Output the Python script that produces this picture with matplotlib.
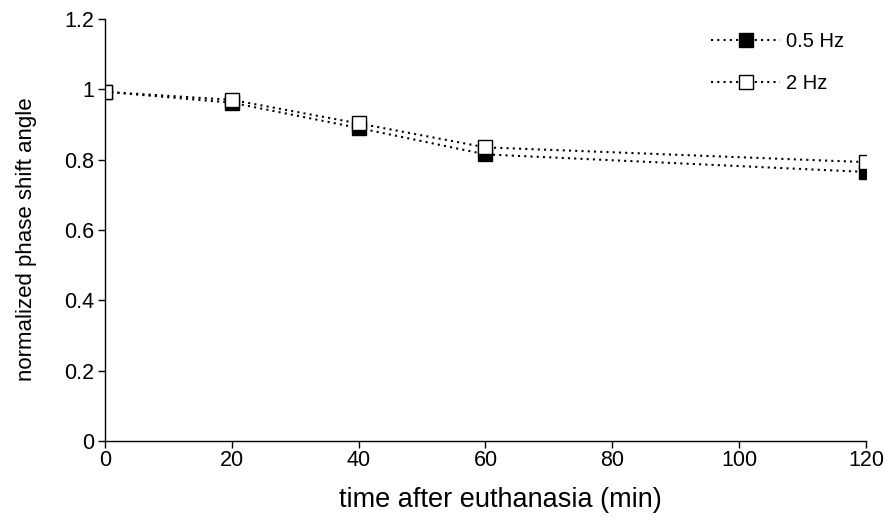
import matplotlib

matplotlib.use("Agg")
import matplotlib.pyplot as plt

plt.rcParams["font.family"] = ["Liberation Sans", "DejaVu Sans"]

minutes = [0, 20, 40, 60, 120]
phase_05hz = [0.993, 0.962, 0.890, 0.815, 0.765]
phase_2hz = [0.993, 0.970, 0.903, 0.835, 0.793]
series_labels = ["0.5 Hz", "2 Hz"]
x_ticks = [0, 20, 40, 60, 80, 100, 120]
y_ticks = [0, 0.2, 0.4, 0.6, 0.8, 1.0, 1.2]
y_tick_labels = ["0", "0.2", "0.4", "0.6", "0.8", "1", "1.2"]

fig = plt.figure(figsize=(8.94, 5.23), dpi=100)
ax = fig.add_axes([0.1174, 0.1568, 0.8513, 0.8069])

line_style = (0, (1, 2))
ax.plot(minutes, phase_05hz, linestyle=line_style, color="black", linewidth=1.5,
        marker="s", markersize=10, markerfacecolor="black", markeredgecolor="black",
        markeredgewidth=1.0, label=series_labels[0])
ax.plot(minutes, phase_2hz, linestyle=line_style, color="black", linewidth=1.5,
        marker="s", markersize=10, markerfacecolor="white", markeredgecolor="black",
        markeredgewidth=1.0, label=series_labels[1])

ax.set_xlim(0, 120)
ax.set_ylim(0, 1.2)
ax.set_xticks(x_ticks)
ax.set_yticks(y_ticks)
ax.set_yticklabels(y_tick_labels)
ax.tick_params(direction="out", length=5, width=1.0, labelsize=15.5)
ax.tick_params(axis="x", pad=1.5)
ax.tick_params(axis="y", pad=3)
for side in ("top", "right"):
    ax.spines[side].set_visible(False)
for side in ("left", "bottom"):
    ax.spines[side].set_linewidth(1.0)

ax.set_xlabel("time after euthanasia (min)", fontsize=19.5, va="center")
ax.xaxis.set_label_coords(0.52, -0.14)
ax.set_ylabel("normalized phase shift angle", fontsize=16, va="center")
ax.yaxis.set_label_coords(-0.1025, 0.479)

ax.legend(loc="upper right", bbox_to_anchor=(0.995, 1.012), frameon=False, fontsize=14.5,
          handlelength=3.4, labelspacing=1.15, handletextpad=0.3)

fig.savefig("out.png", dpi=100)
